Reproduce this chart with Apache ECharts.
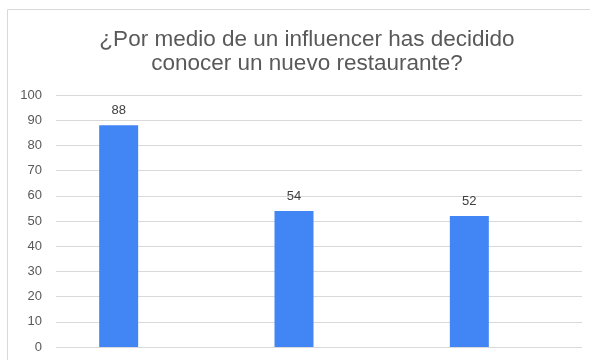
<!DOCTYPE html>
<html>
<head>
<meta charset="utf-8">
<script src="https://cdn.jsdelivr.net/npm/echarts@6/dist/echarts.min.js"></script>
<style>
html,body{margin:0;padding:0;background:#fff;}
#chart{width:590px;height:360px;}
</style>
</head>
<body>
<div id="chart"></div>
<script>
const categories = ['Sí', 'No', 'A veces'];
const values = [88, 54, 52];
const yTicks = { min: 0, max: 100, interval: 10 };
const titleText = '¿Por medio de un influencer has decidido\nconocer un nuevo restaurante?';

const chart = echarts.init(document.getElementById('chart'));
const font = '"Liberation Sans", Arial, sans-serif';
chart.setOption({
  animation: false,
  backgroundColor: '#ffffff',
  graphic: [{
    type: 'rect',
    shape: { x: 7.5, y: 9.5, width: 620, height: 400 },
    style: { fill: 'none', stroke: '#d9d9d9', lineWidth: 1 },
    silent: true,
    z: -10
  }],
  title: {
    text: titleText,
    left: 302,
    top: 23,
    textAlign: 'center',
    textStyle: { fontFamily: font, fontSize: 22.5, fontWeight: 'normal', color: '#595959', lineHeight: 24 }
  },
  grid: [
    { left: 56, right: 8, top: 95, bottom: 13 },
    { left: 31, right: 33, top: 95, bottom: 13 }
  ],
  xAxis: [
    { type: 'category', gridIndex: 0, data: categories, show: false },
    { type: 'category', gridIndex: 1, data: categories, show: false }
  ],
  yAxis: [
    {
      type: 'value', gridIndex: 0, min: yTicks.min, max: yTicks.max, interval: yTicks.interval,
      axisLine: { show: false }, axisTick: { show: false },
      axisLabel: { fontFamily: font, fontSize: 13, color: '#595959', margin: 14 },
      splitLine: { lineStyle: { color: '#d9d9d9', width: 1 } }
    },
    {
      type: 'value', gridIndex: 1, min: yTicks.min, max: yTicks.max, interval: yTicks.interval,
      show: false, splitLine: { show: false }
    }
  ],
  series: [{
    type: 'bar',
    xAxisIndex: 1, yAxisIndex: 1,
    data: values,
    barWidth: 39,
    itemStyle: { color: '#4285F4' },
    label: { show: true, position: 'top', distance: 8, fontFamily: font, fontSize: 13, color: '#404040' }
  }]
});
</script>
</body>
</html>
